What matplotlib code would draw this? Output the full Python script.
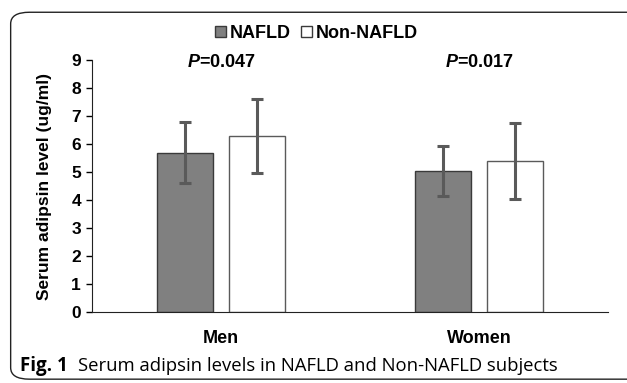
import matplotlib
matplotlib.use("Agg")
import matplotlib.pyplot as plt
from matplotlib.patches import FancyBboxPatch, Patch
import numpy as np

groups = ["Men", "Women"]
series = ["NAFLD", "Non-NAFLD"]
nafld_mean = [5.7, 5.05]
nafld_err = [1.1, 0.9]
non_mean = [6.3, 5.4]
non_err = [1.32, 1.35]
p_values = ["0.047", "0.017"]

plt.rcParams["font.family"] = "Liberation Sans"
plt.rcParams["mathtext.fontset"] = "custom"
plt.rcParams["mathtext.rm"] = "Liberation Sans:bold"
plt.rcParams["mathtext.it"] = "Liberation Sans:bold:italic"

fig = plt.figure(figsize=(6.27, 3.83), dpi=100)
ax = fig.add_axes([0.147, 0.185, 0.823, 0.658])

x = np.arange(len(groups))
w = 0.217
off = 0.139
err_kw = dict(ecolor="#5a5a5a", elinewidth=2.2, capsize=4.5, capthick=2.2)
ax.bar(x - off, nafld_mean, w, yerr=nafld_err, color="#808080",
       edgecolor="#3a3a3a", linewidth=1.0, error_kw=err_kw, label=series[0], zorder=2)
ax.bar(x + off, non_mean, w, yerr=non_err, color="white",
       edgecolor="#5a5a5a", linewidth=1.0, error_kw=err_kw, label=series[1], zorder=2)

for i, p in enumerate(p_values):
    ax.text(x[i], 8.9, "$P$=" + p, ha="center", va="center",
            fontsize=13, fontweight="bold")

ax.set_xlim(-0.5, 1.5)
ax.set_ylim(0, 9)
ax.set_yticks(range(10))
ax.set_xticks(x)
ax.set_xticklabels(groups, fontsize=13, fontweight="bold")
ax.tick_params(axis="x", length=0, pad=13)
ax.tick_params(axis="y", direction="out", length=4, width=1, labelsize=12.5, pad=4)
for lab in ax.get_yticklabels():
    lab.set_fontweight("bold")
ax.spines["top"].set_visible(False)
ax.spines["right"].set_visible(False)
ax.spines["left"].set_color("#222222")
ax.spines["bottom"].set_color("#222222")
ax.set_ylabel("Serum adipsin level (ug/ml)", fontsize=12.5, fontweight="bold", labelpad=14)

handles = [Patch(facecolor="#808080", edgecolor="#3a3a3a", label=series[0]),
           Patch(facecolor="white", edgecolor="#3a3a3a", label=series[1])]
fig.legend(handles=handles, loc="center", bbox_to_anchor=(0.505, 0.913), ncol=2,
           frameon=False, handlelength=0.6, handleheight=0.6, handletextpad=0.2,
           columnspacing=0.6, prop=dict(family="Liberation Sans", weight="bold", size=13))

fig.text(0.032, 0.045, "Fig. 1", fontsize=13.5, fontweight="bold", family="Open Sans",
         va="center", ha="left")
fig.text(0.124, 0.045, "Serum adipsin levels in NAFLD and Non-NAFLD subjects",
         fontsize=13.3, family="Open Sans", va="center", ha="left")

box = FancyBboxPatch((0.017, 0.01), 1.2, 0.958, boxstyle="round,pad=0,rounding_size=0.03",
                     transform=fig.transFigure, facecolor="none", edgecolor="#222222",
                     linewidth=1.0, clip_on=False)
fig.patches.append(box)

fig.savefig("out.png", dpi=100)
